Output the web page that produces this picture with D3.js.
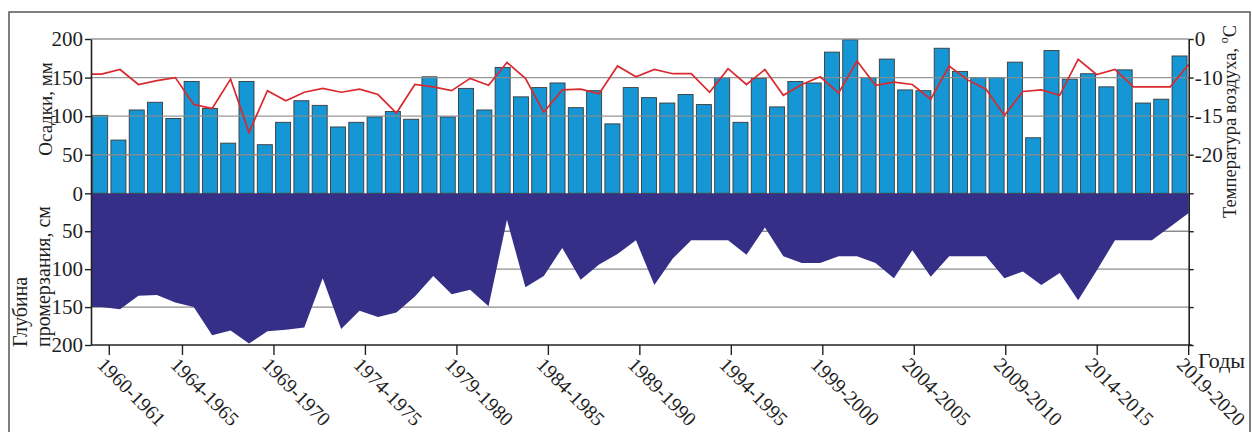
<!DOCTYPE html>
<html>
<head>
<meta charset="utf-8">
<script src="https://cdn.jsdelivr.net/npm/d3@7"></script>
<style>
  body { margin: 0; background: #fff; }
  svg { display: block; }
  text { font-family: "Liberation Serif", "DejaVu Serif", serif; fill: #1e1e1e; }
</style>
</head>
<body>
<svg id="chart" width="1252" height="432"></svg>
<script>
// Winter seasons 1960-1961 … 2019-2020
const seasons = d3.range(1960, 2020).map(y => `${y}-${y + 1}`);

// Precipitation, mm
const precipitation = [
  101, 69, 108, 118, 97, 145, 110, 65, 145, 63,
  92, 120, 114, 86, 92, 99, 106, 96, 151, 99,
  136, 108, 163, 125, 137, 143, 111, 133, 90, 137,
  124, 117, 128, 115, 150, 92, 149, 112, 145, 143,
  183, 199, 150, 174, 134, 133, 188, 158, 150, 150,
  170, 72, 185, 148, 155, 138, 160, 117, 122, 178
];

// Mean air temperature, °C
const airTemperature = [
  -9.1, -7.9, -10.9, -10.4, -10.0, -13.5, -14.0, -10.2, -17.1, -11.7,
  -13.0, -11.9, -11.4, -11.9, -11.5, -12.2, -14.6, -10.9, -11.2, -11.7,
  -10.1, -11.0, -6.1, -10.1, -14.5, -11.6, -11.5, -12.1, -7.0, -9.8,
  -7.9, -9.0, -9.0, -11.9, -7.7, -10.9, -7.9, -12.3, -10.9, -9.8,
  -12.0, -5.7, -11.0, -10.6, -10.9, -12.8, -7.0, -10.3, -11.5, -14.9,
  -11.8, -11.6, -12.3, -5.3, -9.2, -7.9, -11.2, -11.2, -11.2, -6.6
];

// Soil freezing depth, cm
const freezeDepth = [
  150, 153, 135, 134, 144, 150, 187, 181, 198, 182,
  180, 177, 112, 179, 155, 163, 157, 136, 109, 133,
  127, 149, 35, 124, 109, 72, 114, 94, 80, 62,
  121, 86, 62, 62, 62, 81, 45, 83, 92, 92,
  83, 83, 92, 112, 75, 110, 83, 83, 83, 112,
  103, 121, 105, 141, 102, 62, 62, 62, 44, 26
];

const tickSeasons = [
  "1960-1961", "1964-1965", "1969-1970", "1974-1975", "1979-1980",
  "1984-1985", "1989-1990", "1994-1995", "1999-2000", "2004-2005",
  "2009-2010", "2014-2015", "2019-2020"
];
const precipTicks = [0, 50, 100, 150, 200];
const depthTicks = [50, 100, 150, 200];
const tempTicks = [0, -10, -15, -20, -25];

const svg = d3.select("#chart");

const x0 = 91, x1 = 1188.7;
const yZero = 193.3, yTop = 39, yBottom = 345;

const xBand = d3.scaleBand().domain(seasons).range([x0, x1])
  .paddingInner(0.18).paddingOuter(0.09);
const step = xBand.step();
const xPoint = d3.scalePoint().domain(seasons).range([x0 + 0.58 * step, x1]);

const yP = d3.scaleLinear().domain([0, 200]).range([yZero, yTop]);
const yD = d3.scaleLinear().domain([0, 200]).range([yZero, yBottom]);
const yT = d3.scaleLinear().domain([0, -10, -25]).range([yP(200), yP(150), yP(0)]);

// outer frame
svg.append("rect")
  .attr("x", 9).attr("y", 12).attr("width", 1241).attr("height", 440)
  .attr("fill", "#fff").attr("stroke", "#555").attr("stroke-width", 1.5);

const gridColor = "#8c8c8c";

// gridlines under the freezing-depth area
svg.append("g").selectAll("line").data([50, 100, 150]).join("line")
  .attr("x1", x0).attr("x2", x1)
  .attr("y1", d => yD(d)).attr("y2", d => yD(d))
  .attr("stroke", gridColor).attr("stroke-width", 1.4);

// freezing depth area
const depthPts = [{ x: x0, v: freezeDepth[0] }]
  .concat(seasons.map((s, i) => ({ x: xPoint(s), v: freezeDepth[i] })));
svg.append("path")
  .datum(depthPts)
  .attr("fill", "#352f88")
  .attr("d", d3.area().x(d => d.x).y0(yD(0)).y1(d => yD(d.v)));

// precipitation bars
svg.append("g").selectAll("rect").data(seasons).join("rect")
  .attr("x", d => xBand(d))
  .attr("width", xBand.bandwidth())
  .attr("y", (d, i) => yP(precipitation[i]))
  .attr("height", (d, i) => yP(0) - yP(precipitation[i]))
  .attr("fill", "#1597d6")
  .attr("stroke", "#3a3a3a").attr("stroke-width", 0.9);

// gridlines over the bars
svg.append("g").selectAll("line").data([50, 100, 150, 200]).join("line")
  .attr("x1", x0).attr("x2", x1)
  .attr("y1", d => yP(d)).attr("y2", d => yP(d))
  .attr("stroke", gridColor).attr("stroke-width", 1.4)
  .attr("stroke-opacity", 0.9);

// air temperature line
const tempPts = [{ x: x0, v: airTemperature[0] }]
  .concat(seasons.map((s, i) => ({ x: xPoint(s), v: airTemperature[i] })));
svg.append("path")
  .datum(tempPts)
  .attr("fill", "none")
  .attr("stroke", "#d92a30").attr("stroke-width", 1.7)
  .attr("stroke-linejoin", "miter")
  .attr("d", d3.line().x(d => d.x).y(d => yT(d.v)));

// axes
function styleAxis(g) {
  g.selectAll(".domain").attr("stroke", "#222").attr("stroke-width", 1.6);
  g.selectAll(".tick line").attr("stroke", "#222").attr("stroke-width", 1.4);
  g.selectAll(".tick text")
    .attr("font-size", 21)
    .attr("font-family", '"Liberation Serif", serif')
    .attr("fill", "#1e1e1e");
}

svg.append("g").attr("transform", `translate(${x0},0)`)
  .call(d3.axisLeft(yP).tickValues(precipTicks).tickSize(6).tickPadding(2)
    .tickSizeOuter(0).tickFormat(d3.format("d")))
  .call(styleAxis);

svg.append("g").attr("transform", `translate(${x0},0)`)
  .call(d3.axisLeft(yD).tickValues(depthTicks).tickSize(6).tickPadding(2)
    .tickSizeOuter(0).tickFormat(d3.format("d")))
  .call(styleAxis);

svg.append("g").attr("transform", `translate(${x1},0)`)
  .call(d3.axisRight(yT).tickValues(tempTicks).tickSize(5).tickPadding(1)
    .tickSizeOuter(0).tickFormat(d => d === -25 ? "" : String(d)))
  .call(styleAxis);

svg.append("g").attr("transform", `translate(${x1},0)`)
  .call(d3.axisRight(yD).tickValues(depthTicks).tickSize(5)
    .tickSizeOuter(0).tickFormat(""))
  .call(styleAxis);

// category axis along the bottom
const tickX = s => xBand(s) + xBand.bandwidth() + step * 0.09;
svg.append("line")
  .attr("x1", x0).attr("x2", x1 + 3)
  .attr("y1", yBottom).attr("y2", yBottom)
  .attr("stroke", "#222").attr("stroke-width", 1.6);
const xt = svg.append("g").selectAll("g").data(tickSeasons).join("g")
  .attr("transform", d => `translate(${tickX(d)},${yBottom})`);
xt.append("line").attr("y2", 10).attr("stroke", "#222").attr("stroke-width", 1.4);
xt.append("text")
  .attr("transform", "translate(-13,21) rotate(45)")
  .attr("font-size", 20)
  .text(d => d);

// axis titles
svg.append("text")
  .attr("transform", "translate(52,109) rotate(-90)")
  .attr("text-anchor", "middle").attr("font-size", 19)
  .text("Осадки, мм");

svg.append("text")
  .attr("transform", "translate(27,347) rotate(-90)")
  .attr("font-size", 20)
  .text("Глубина");
svg.append("text")
  .attr("transform", "translate(50,347) rotate(-90)")
  .attr("font-size", 20)
  .text("промерзания, см");

const tt = svg.append("text")
  .attr("transform", "translate(1236,218) rotate(-90)")
  .attr("font-size", 18.5);
tt.append("tspan").text("Температура воздуха, ");
tt.append("tspan").attr("font-size", 12).attr("dy", -8).text("o");
tt.append("tspan").attr("dy", 8).text("C");

svg.append("text")
  .attr("x", 1198).attr("y", 368)
  .attr("font-size", 22)
  .text("Годы");
</script>
</body>
</html>
